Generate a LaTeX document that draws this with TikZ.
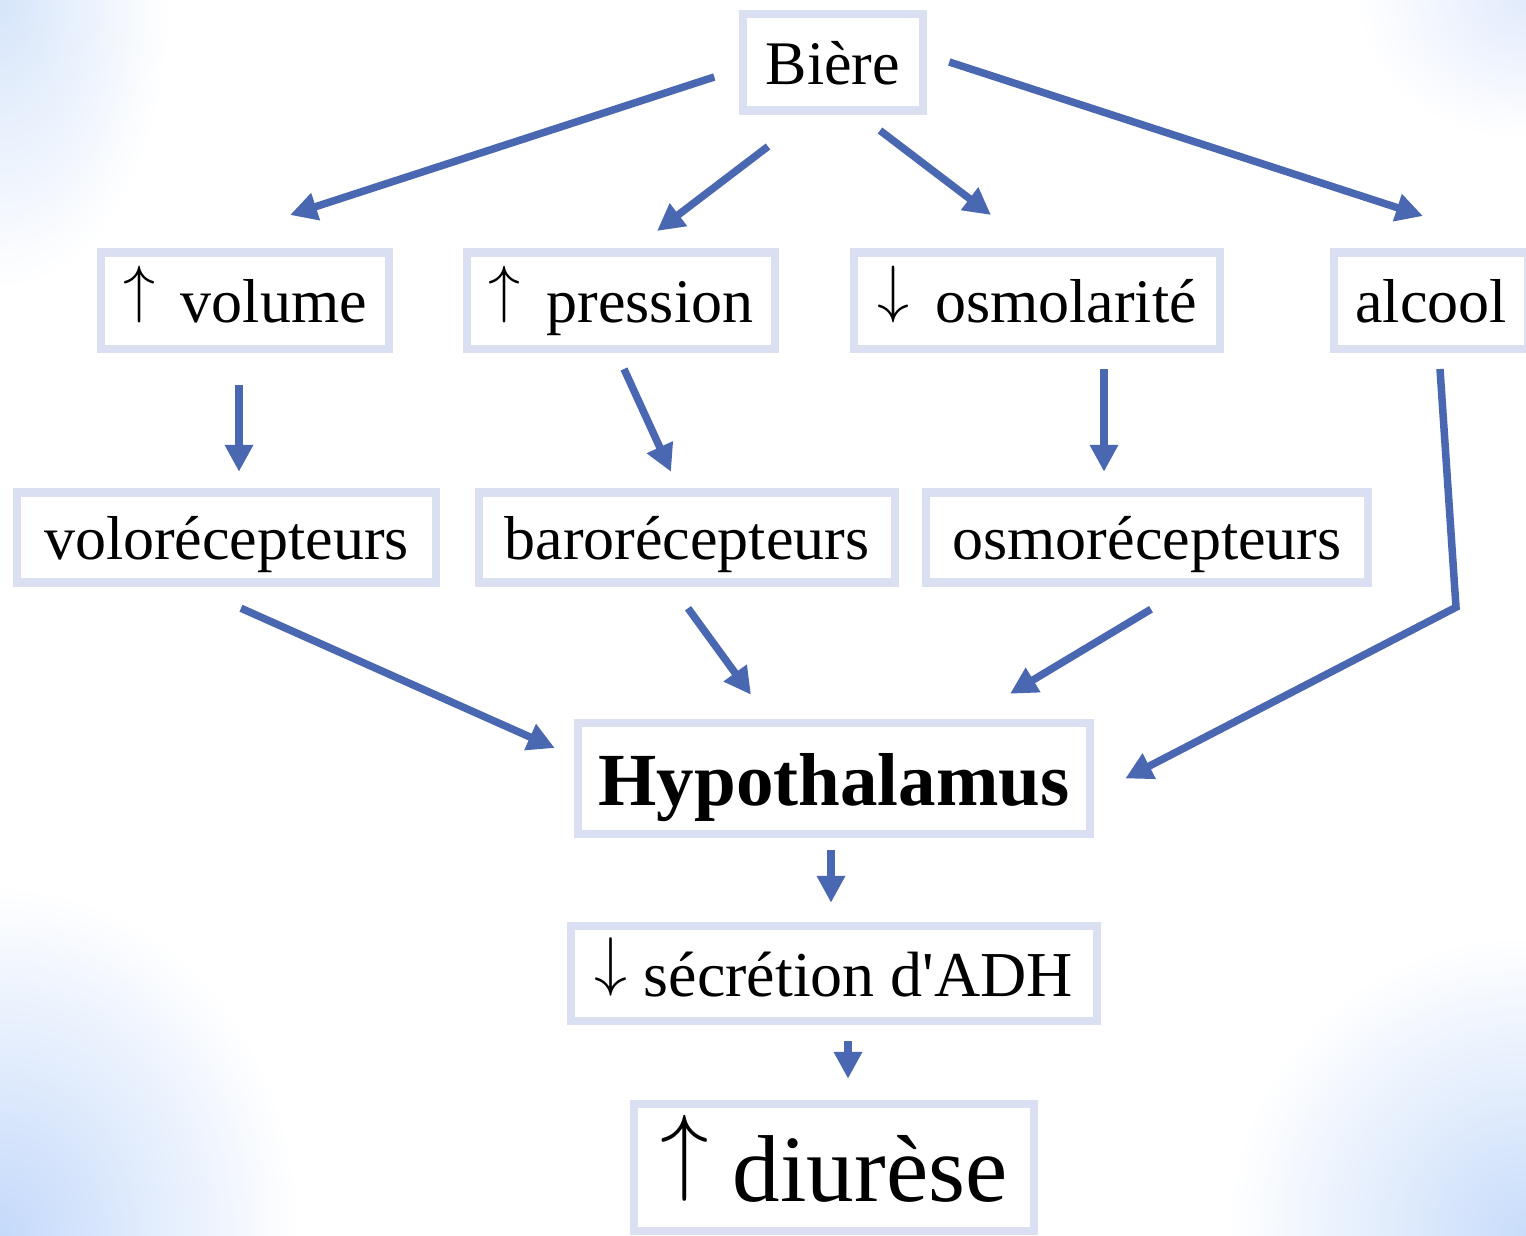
\documentclass[tikz,border=0pt]{standalone}
\usepackage{fontspec}
\usepackage{graphicx}
\setmainfont{Liberation Serif}[Ligatures=TeXOff]
\usetikzlibrary{arrows.meta,calc}
\definecolor{arrc}{RGB}{74,103,177}
\definecolor{boxc}{RGB}{218,224,241}
\definecolor{bgTL}{RGB}{214,229,250}
\definecolor{bgTR}{RGB}{226,235,252}
\definecolor{bgBL}{RGB}{196,217,250}
\definecolor{bgBR}{RGB}{200,220,250}
\newcommand{\myup}[1]{\scalebox{#1}{\fontsize{10}{10}\selectfont\raisebox{1.94pt}{$\uparrow$}}}
\newcommand{\mydown}[1]{\scalebox{#1}{\fontsize{10}{10}\selectfont\raisebox{1.94pt}{$\downarrow$}}}
\tikzset{
  box/.style={draw=boxc, line width=8.5pt, fill=white, inner sep=0pt,
    text height=0.8*#1pt, text depth=0.08*#1pt, font=\fontsize{#1}{#1}\selectfont},
  box/.default=62,
  arr/.style={draw=arrc, line width=7.5pt, -{Triangle[length=27pt,width=27pt]}},
}
\begin{document}
\begin{tikzpicture}[x=1pt,y=-1pt]
\useasboundingbox (0,0) rectangle (1526,1235);
\fill[white] (0,0) rectangle (1526,1235);
\begin{scope}
\clip (0,0) rectangle (1526,1235);
\shade[inner color=bgTL, outer color=white] (0,0) ellipse [x radius=170, y radius=290];
\shade[inner color=bgTR, outer color=white] (1526,0) ellipse [x radius=170, y radius=140];
\shade[inner color=bgBL, outer color=white] (0,1235) ellipse [x radius=300, y radius=350];
\shade[inner color=bgBR, outer color=white] (1526,1235) ellipse [x radius=300, y radius=300];
\end{scope}

\node[box, minimum width=180, minimum height=96.5] (biere) at (833,62) {Bière};
\node[box, minimum width=288, minimum height=96.5] (vol) at (245,300.5) {\myup{6.4}\, volume};
\node[box, minimum width=308, minimum height=96.5] (pres) at (621,300.5) {\myup{6.4}\, pression};
\node[box, minimum width=366, minimum height=96.5] (osm) at (1037,300.5) {\mydown{6.4}\, osmolarité};
\node[box, minimum width=194, minimum height=96.5] (alc) at (1431,300.5) {alcool};
\node[box, minimum width=419, minimum height=90] (volo) at (226.5,537.5) {volorécepteurs};
\node[box, minimum width=416, minimum height=90] (baro) at (687,537.5) {barorécepteurs};
\node[box, minimum width=442, minimum height=90] (osmo) at (1147,537.5) {osmorécepteurs};
\node[box=75, minimum width=512, minimum height=111, font=\fontsize{75}{84}\selectfont\bfseries] (hypo) at (834,778.5) {Hypothalamus};
\node[box=64, minimum width=526, minimum height=95] (secr) at (834,973.5) {\mydown{6.6} sécrétion d'ADH};
\node[box=95, minimum width=400, minimum height=127] (diur) at (834,1167.5) {\myup{9.7} diurèse};

\draw[arr] ([shift={(-24.5,15)}]biere.west) -- ([shift={(45,-33)}]vol.north);
\draw[arr] ([shift={(-65,32)}]biere.south) -- ([shift={(36,-17)}]pres.north);
\draw[arr] ([shift={(47,16)}]biere.south) -- ([shift={(-46,-33)}]osm.north);
\draw[arr] ([shift={(22,0)}]biere.east) -- ([shift={(-8,-32)}]alc.north);

\draw[arr] ([shift={(-6,32)}]vol.south) -- ([shift={(12.5,-16.5)}]volo.north);
\draw[arr] ([shift={(3,16)}]pres.south) -- ([shift={(-16,-16.5)}]baro.north);
\draw[arr] ([shift={(67,16)}]osm.south) -- ([shift={(-43,-16.5)}]osmo.north);
\draw[arr] ([shift={(9,16)}]alc.south) -- ([shift={(25,254.25)}]alc.south) -- ([shift={(31,0)}]hypo.east);

\draw[arr] ([shift={(14.5,21.5)}]volo.south) -- ([shift={(-19,-30.5)}]hypo.west);
\draw[arr] ([shift={(1,21.5)}]baro.south) -- ([shift={(-83,-24)}]hypo.north);
\draw[arr] ([shift={(4,22.5)}]osmo.south) -- ([shift={(176,-25)}]hypo.north);

\draw[arr] ([shift={(-3,12)}]hypo.south) -- ([shift={(-3,-19)}]secr.north);
\draw[arr] ([shift={(14,16)}]secr.south) -- ([shift={(14,-21)}]diur.north);
\end{tikzpicture}
\end{document}
